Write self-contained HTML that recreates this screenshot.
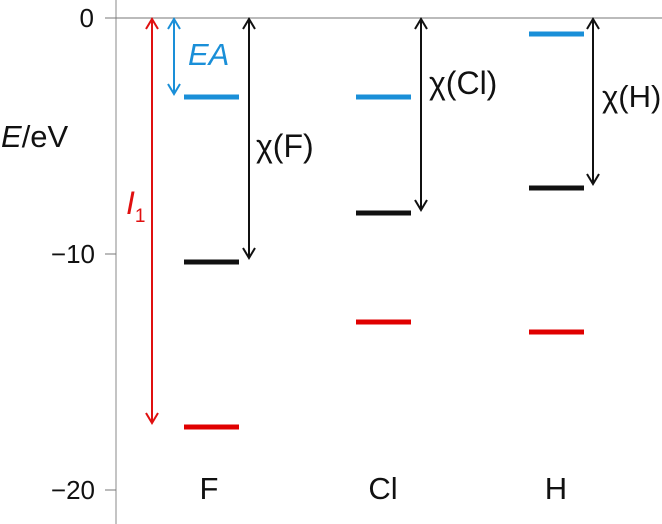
<!DOCTYPE html>
<html><head><style>body{margin:0;background:#fff}svg{display:block}</style></head><body>
<svg width="662" height="524" viewBox="0 0 662 524" xmlns="http://www.w3.org/2000/svg" font-family="Liberation Sans, sans-serif">
<line x1="116" y1="0" x2="116" y2="524" stroke="#888" stroke-width="1"/>
<line x1="105" y1="18" x2="662" y2="18" stroke="#777" stroke-width="1"/>
<line x1="105" y1="254" x2="116" y2="254" stroke="#777"/>
<line x1="105" y1="490" x2="116" y2="490" stroke="#777"/>
<g font-size="26" fill="#111">
<text x="94" y="27" text-anchor="end">0</text>
<text x="95" y="263" text-anchor="end">−10</text>
<text x="95" y="499" text-anchor="end">−20</text>
<text x="1" y="147" font-size="31"><tspan font-style="italic">E</tspan>/eV</text>
<text x="209" y="499" text-anchor="middle" font-size="31">F</text>
<text x="383" y="499" text-anchor="middle" font-size="31">Cl</text>
<text x="556" y="499" text-anchor="middle" font-size="31">H</text>
<text x="256" y="157" font-size="32">χ(F)</text>
<text x="429" y="94" font-size="32">χ(Cl)</text>
<text x="602" y="107" font-size="31">χ(H)</text>
</g>
<text x="188" y="65" font-size="31" font-style="italic" fill="#1a8fd8">EA</text>
<text x="126" y="214" font-size="32" font-style="italic" fill="#e01010">I<tspan font-size="19" font-style="normal" dy="8">1</tspan></text>
<g stroke-width="5">
<line x1="184" y1="97" x2="239" y2="97" stroke="#1a8fd8"/>
<line x1="184" y1="262" x2="239" y2="262" stroke="#111"/>
<line x1="184" y1="427" x2="239" y2="427" stroke="#e00000"/>
<line x1="356" y1="97" x2="411" y2="97" stroke="#1a8fd8"/>
<line x1="356" y1="213" x2="411" y2="213" stroke="#111"/>
<line x1="356" y1="322" x2="411" y2="322" stroke="#e00000"/>
<line x1="529" y1="34" x2="584" y2="34" stroke="#1a8fd8"/>
<line x1="529" y1="188" x2="584" y2="188" stroke="#111"/>
<line x1="529" y1="332" x2="584" y2="332" stroke="#e00000"/>
</g>
<g fill="none" stroke-width="2">
<g stroke="#e01010"><line x1="152" y1="19" x2="152" y2="423"/><path d="M146 29 L152 19 L158 29 M146 413 L152 423 L158 413"/></g>
<g stroke="#1a8fd8"><line x1="174" y1="19" x2="174" y2="94"/><path d="M168 29 L174 19 L180 29 M168 84 L174 94 L180 84"/></g>
<g stroke="#111"><line x1="249" y1="19" x2="249" y2="258"/><path d="M243 29 L249 19 L255 29 M243 248 L249 258 L255 248"/></g>
<g stroke="#111"><line x1="421" y1="19" x2="421" y2="210"/><path d="M415 29 L421 19 L427 29 M415 200 L421 210 L427 200"/></g>
<g stroke="#111"><line x1="593" y1="19" x2="593" y2="184"/><path d="M587 29 L593 19 L599 29 M587 174 L593 184 L599 174"/></g>
</g>
</svg>
</body></html>
